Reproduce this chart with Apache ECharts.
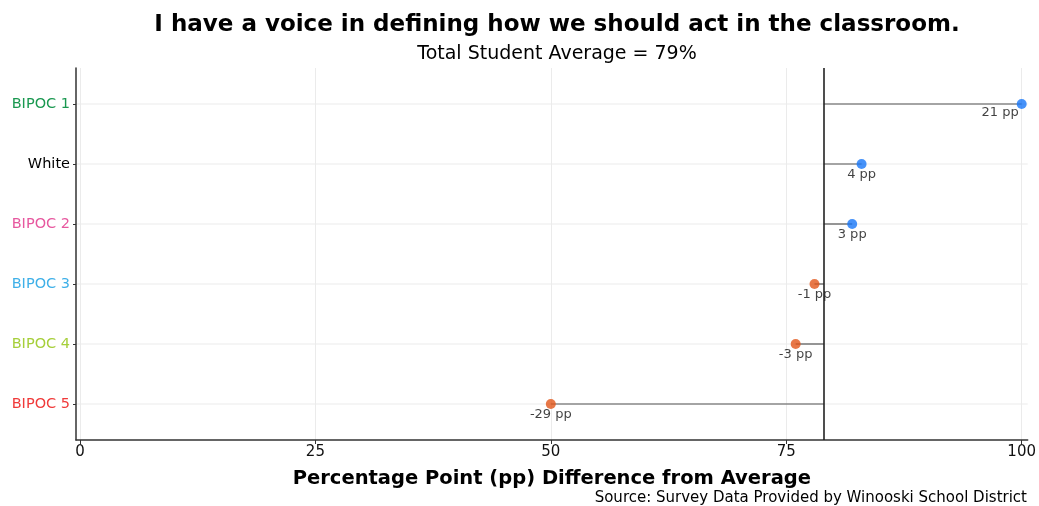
<!DOCTYPE html>
<html><head><meta charset="utf-8">
<script src="https://cdn.jsdelivr.net/npm/echarts@6/dist/echarts.min.js"></script>
<style>html,body{margin:0;padding:0;background:#fff}#c{width:1039px;height:506px}</style>
</head><body><div id="c"></div>
<script>
const categories = ['BIPOC 1','White','BIPOC 2','BIPOC 3','BIPOC 4','BIPOC 5'];
const labelColors = ['#1a9850','#000000','#e7589f','#3fb0e8','#a6cf3a','#f03a3a'];
const values = [100, 83, 82, 78, 76, 50];
const average = 79;
const xTicks = [0, 25, 50, 75, 100];

const FONT = 'DejaVu Sans';
const rich = {};
categories.forEach((c,i)=>{ rich['c'+i] = {color: labelColors[i], fontSize: 14.5, fontFamily: FONT}; });

const points = values.map((v,i)=>{
  const d = v - average;
  const item = {
    value: [v, i],
    itemStyle: {color: d >= 0 ? '#1877f7' : '#e2561a'},
    label: {show: true, formatter: d + ' pp', position: 'bottom', distance: 0, offset: [0, -1]}
  };
  if (v >= 99) { item.label.position = 'left'; item.label.align = 'right'; item.label.offset = [2, 9]; }
  return item;
});

const chart = echarts.init(document.getElementById('c'));
chart.setOption({
  animation: false,
  title: [
    {text: 'I have a voice in defining how we should act in the classroom.', left: 552, top: 9, textAlign: 'center',
     textStyle: {fontFamily: FONT, fontWeight: 'bold', fontSize: 23, color: '#000'}},
    {text: 'Total Student Average = 79%', left: 552, top: 40, textAlign: 'center',
     textStyle: {fontFamily: FONT, fontWeight: 'normal', fontSize: 19, color: '#000'}},
    {text: 'Source: Survey Data Provided by Winooski School District', right: 7, top: 486,
     textStyle: {fontFamily: FONT, fontWeight: 'normal', fontSize: 15, color: '#000'}}
  ],
  grid: {left: 76, right: 6, top: 68, bottom: 66, containLabel: false},
  xAxis: {
    type: 'value', min: -0.42, max: 100.64,
    name: 'Percentage Point (pp) Difference from Average', nameLocation: 'middle', nameGap: 29,
    nameTextStyle: {fontFamily: FONT, fontWeight: 'bold', fontSize: 19.5, color: '#000'},
    axisLine: {show: true, onZero: false, lineStyle: {color: '#333', width: 1.5}},
    axisTick: {show: true, customValues: xTicks, length: 4, lineStyle: {color: '#333'}},
    axisLabel: {customValues: xTicks, fontFamily: FONT, fontSize: 15, color: '#111', margin: 5},
    splitLine: {show: true, lineStyle: {color: '#ebebeb', width: 1}}
  },
  yAxis: {
    type: 'value', min: -0.6, max: 5.6, inverse: true,
    axisLine: {show: true, onZero: false, lineStyle: {color: '#333', width: 1.5}},
    axisTick: {show: true, customValues: [0,1,2,3,4,5], length: 3, lineStyle: {color: '#333'}},
    axisLabel: {customValues: [0,1,2,3,4,5], margin: 6,
      formatter: v => '{c' + v + '|' + categories[v] + '}', rich: rich},
    splitLine: {show: false}
  },
  series: [
    {
      type: 'custom',
      data: values.map((v,i)=>[v,i]),
      renderItem: (params, api) => {
        const p0 = api.coord([average, api.value(1)]);
        const p1 = api.coord([api.value(0), api.value(1)]);
        return {type: 'line', shape: {x1: p0[0], y1: p0[1], x2: p1[0], y2: p1[1]},
                style: {stroke: '#555', lineWidth: 1.2}};
      },
      z: 2
    },
    {
      type: 'custom',
      data: categories.map((c,i)=>[0,i]),
      renderItem: (params, api) => {
        const cs = params.coordSys;
        const y = api.coord([0, api.value(1)])[1];
        return {type: 'line', shape: {x1: cs.x, y1: y, x2: cs.x + cs.width, y2: y},
                style: {stroke: '#ebebeb', lineWidth: 1}};
      },
      silent: true, z: 0
    },
    {
      type: 'scatter', symbolSize: 10, data: points, z: 4,
      label: {fontFamily: FONT, fontSize: 13, color: '#111'},
      markLine: {
        silent: true, symbol: 'none', label: {show: false},
        lineStyle: {color: '#222', width: 1.6, type: 'solid'},
        data: [{xAxis: average}]
      }
    }
  ]
});
</script></body></html>
